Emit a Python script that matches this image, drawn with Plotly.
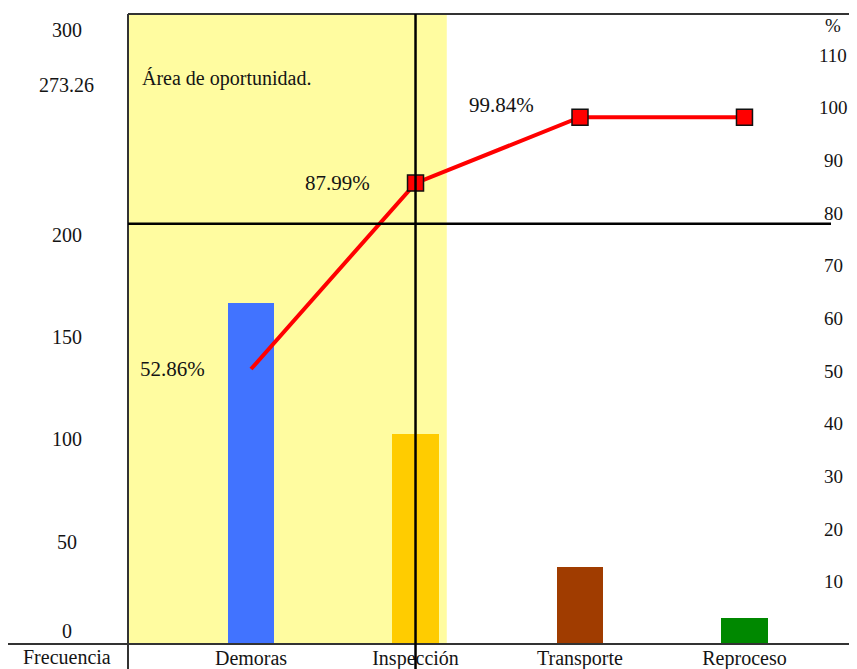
import plotly.graph_objects as go

# ---- data ----
categories = ["Demoras", "Inspección", "Transporte", "Reproceso"]
frequency = [166.7, 102.7, 37.6, 12.7]
cumulative_pct = [50.4, 85.7, 98.2, 98.2]
pct_labels = ["52.86%", "87.99%", "99.84%"]
left_tick_vals = [0, 50, 100, 150, 200, 273.26, 300]
left_tick_text = ["0", "50", "100", "150", "200", "273.26", "300"]
right_tick_vals = [10, 20, 30, 40, 50, 60, 70, 80, 90, 100, 110]
threshold_pct = 78
area_label = "Área de oportunidad."
left_axis_title = "Frecuencia"
right_axis_title = "%"

# ---- style ----
bar_colors = ["#4173FF", "#FFCC00", "#A03C00", "#008800"]
FONT = "Liberation Serif"
TXT = "#141414"
bar_width = 0.28
x_range = [-0.748, 3.526]
y_range = [0, 308]
y2_range = [-1.8, 117.8]

fig = go.Figure()
fig.add_trace(go.Bar(
    x=categories, y=frequency, width=bar_width,
    marker=dict(color=bar_colors, line=dict(width=0)),
    yaxis="y", showlegend=False, hoverinfo="x+y",
))
fig.add_trace(go.Scatter(
    x=categories, y=cumulative_pct, yaxis="y2", mode="lines+markers",
    line=dict(color="#FF0000", width=4),
    marker=dict(symbol="square", size=[0, 16, 16, 16], color="#FF0000",
                opacity=1, line=dict(color="#111111", width=1.5)),
    showlegend=False,
))

shapes = []
# yellow opportunity area (up to right edge of the Inspección bar)
shapes.append(dict(type="rect", xref="x", yref="paper", x0=x_range[0],
                   x1=categories.index("Inspección") + bar_width / 2 + 0.05,
                   y0=0, y1=1, fillcolor="#FFFCA0", line=dict(width=0),
                   layer="below"))
# frame lines
shapes.append(dict(type="line", xref="paper", yref="paper", x0=0, x1=0,
                   y0=-0.05, y1=1, line=dict(color="#333333", width=2)))
shapes.append(dict(type="line", xref="paper", yref="paper", x0=0, x1=1.05,
                   y0=1, y1=1, line=dict(color="#333333", width=2)))
shapes.append(dict(type="line", xref="paper", yref="paper", x0=-0.2, x1=1.05,
                   y0=0, y1=0, line=dict(color="#333333", width=2)))
# 80 % threshold line
shapes.append(dict(type="line", xref="paper", yref="y2", x0=0, x1=1,
                   y0=threshold_pct, y1=threshold_pct,
                   line=dict(color="#000000", width=2.5)))
# vertical cut line at Inspección
shapes.append(dict(type="line", xref="x", yref="paper",
                   x0=categories.index("Inspección"), x1=categories.index("Inspección"),
                   y0=-0.05, y1=1, line=dict(color="#000000", width=2.5)))

ann = []
for v, t in zip(left_tick_vals, left_tick_text):
    ann.append(dict(xref="paper", yref="y", x=-0.0868, y=v, text=t,
                    showarrow=False, xanchor="center",
                    yanchor="bottom" if v == 0 else "middle",
                    font=dict(family=FONT, size=20, color=TXT)))
for v in right_tick_vals:
    ann.append(dict(xref="paper", yref="y2", x=1.003, y=v, text=str(v),
                    showarrow=False, xanchor="center", yanchor="middle",
                    font=dict(family=FONT, size=19, color=TXT)))
ann.append(dict(xref="paper", yref="paper", x=1.003, y=0.9825, text=right_axis_title,
                showarrow=False, xanchor="center", yanchor="middle",
                font=dict(family=FONT, size=19, color=TXT)))
ann.append(dict(xref="paper", yref="paper", x=-0.0868, y=-0.0206, text=left_axis_title,
                showarrow=False, xanchor="center", yanchor="middle",
                font=dict(family=FONT, size=20, color=TXT)))
ann.append(dict(xref="paper", yref="paper", x=0.017, y=0.897, text=area_label,
                showarrow=False, xanchor="left", yanchor="middle",
                font=dict(family=FONT, size=20, color=TXT)))
for i, t in enumerate(pct_labels):
    ann.append(dict(xref="x", yref="y2", x=categories[i], y=cumulative_pct[i], text=t,
                    showarrow=False, xanchor="right", yanchor="middle",
                    xshift=-44, yshift=12 if i == len(pct_labels) - 1 else 0,
                    font=dict(family=FONT, size=21, color=TXT)))

# the page body adds an 8px margin, so the figure is 8px smaller on each axis
fig.update_layout(
    width=849, height=661,
    margin=dict(l=120, r=26, t=6, b=25),
    paper_bgcolor="white", plot_bgcolor="white",
    bargap=0, shapes=shapes, annotations=ann,
    xaxis=dict(type="category", categoryorder="array", categoryarray=categories,
               range=x_range, showgrid=False, zeroline=False, showline=False,
               ticks="", automargin=False, ticklabelstandoff=0,
               tickfont=dict(family=FONT, size=20, color=TXT)),
    yaxis=dict(range=y_range, showgrid=False, zeroline=False, showline=False,
               showticklabels=False, ticks="", automargin=False),
    yaxis2=dict(range=y2_range, overlaying="y", side="right", showgrid=False,
                zeroline=False, showline=False, showticklabels=False, ticks="",
                automargin=False),
)

fig.write_html("out.html")
